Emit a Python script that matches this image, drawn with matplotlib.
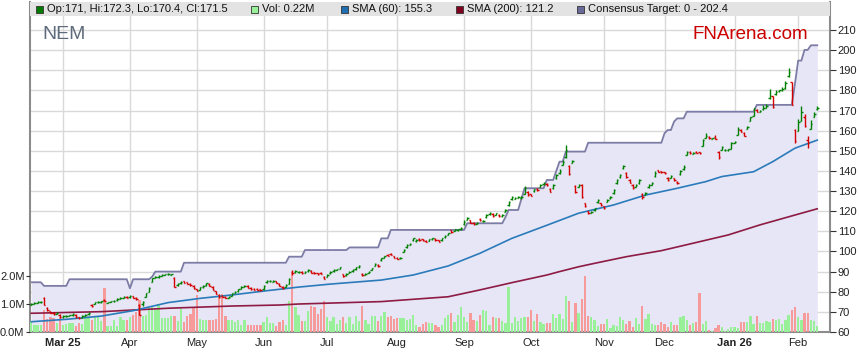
import numpy as np
import pandas as pd
import matplotlib
matplotlib.use("Agg")
import matplotlib.pyplot as plt
from matplotlib.collections import LineCollection
from matplotlib.patches import Rectangle

plt.rcParams['font.family'] = ['Liberation Sans', 'DejaVu Sans']

# trading days (US calendar) shown on the chart
holidays = ['2025-02-17', '2025-04-18', '2025-05-26', '2025-06-19', '2025-07-04',
            '2025-09-01', '2025-11-27', '2025-12-25', '2026-01-01', '2026-01-19']
dates = pd.bdate_range('2025-02-14', '2026-02-10', freq='C', holidays=holidays)

opens = [
    73.5, 73.9, 74.5, 74.8, 76.9, 72.0, 70.2, 69.5, 68.9, 68.6,
    67.4, 67.7, 67.9, 68.3, 68.4, 67.3, 67.0, 68.0, 68.7, 73.5,
    74.0, 74.7, 74.9, 76.0, 74.5, 74.9, 75.2, 75.8, 76.5, 77.0,
    77.6, 77.2, 77.8, 76.9, 73.4, 74.0, 77.5, 80.0, 85.0, 87.0,
    87.3, 88.0, 88.4, 88.6, 88.5, 87.0, 83.2, 84.3, 85.1, 84.6,
    83.9, 82.8, 81.3, 80.9, 82.3, 83.2, 84.0, 82.5, 80.2, 78.5,
    78.0, 77.6, 77.1, 78.0, 79.4, 80.3, 81.6, 82.5, 82.8, 81.9,
    81.5, 81.4, 81.3, 81.2, 84.8, 85.2, 85.0, 85.2, 83.8, 82.5,
    82.4, 84.0, 90.0, 89.7, 89.7, 89.9, 89.4, 90.2, 90.4, 89.6,
    89.2, 89.5, 87.5, 87.4, 89.3, 90.3, 90.9, 91.5, 88.6, 88.2,
    89.3, 90.3, 91.3, 92.3, 89.0, 88.5, 89.4, 90.8, 93.0, 93.5,
    95.8, 97.0, 98.3, 98.8, 97.5, 97.0, 96.6, 99.8, 102.0, 103.4,
    105.5, 105.2, 106.2, 106.0, 105.4, 105.3, 106.0, 106.3, 105.5, 105.6,
    107.0, 108.2, 110.5, 110.3, 110.6, 111.2, 113.5, 115.8, 115.5, 114.2,
    113.8, 116.2, 114.9, 117.0, 118.5, 118.6, 118.3, 118.2, 117.5, 119.6,
    123.0, 126.0, 126.3, 126.7, 126.6, 128.5, 129.5, 128.3, 129.8, 131.0,
    132.0, 133.4, 133.6, 131.0, 131.5, 136.5, 139.0, 143.0, 147.0, 142.5,
    144.0, 132.5, 132.2, 133.0, 124.0, 120.0, 119.2, 120.5, 124.5, 124.0,
    122.5, 124.6, 126.5, 129.0, 134.0, 137.0, 141.5, 139.0, 135.5, 133.0,
    132.2, 134.0, 128.5, 128.0, 132.0, 133.0, 137.5, 140.3, 139.9, 139.4,
    136.5, 136.6, 136.3, 134.5, 138.5, 141.0, 148.0, 149.5, 148.5, 149.6,
    149.3, 152.5, 156.5, 157.0, 156.0, 157.0, 149.5, 150.5, 150.2, 150.3,
    151.0, 154.0, 158.0, 160.5, 159.0, 161.0, 165.0, 167.5, 170.5, 169.3,
    170.8, 171.5, 176.0, 177.0, 178.0, 179.5, 180.0, 181.0, 187.0, 184.0,
    160.5, 160.0, 165.0, 167.0, 155.5, 161.0, 167.0, 171.0,
]
highs = [
    74.3, 74.8, 75.4, 75.6, 77.2, 72.3, 70.5, 69.8, 69.7, 68.9,
    68.2, 68.3, 68.6, 69.2, 68.7, 67.6, 68.2, 68.8, 69.7, 73.8,
    75.1, 75.3, 75.5, 76.3, 75.1, 75.5, 75.9, 76.8, 77.3, 77.9,
    77.9, 78.2, 78.1, 77.2, 73.7, 75.3, 79.5, 82.3, 87.0, 88.0,
    88.4, 88.8, 89.0, 89.2, 89.0, 87.3, 84.3, 85.3, 85.4, 84.9,
    84.2, 83.1, 81.6, 82.5, 83.2, 84.5, 84.3, 82.8, 80.5, 78.8,
    78.3, 77.9, 77.8, 79.5, 80.3, 81.5, 82.8, 83.2, 83.1, 82.2,
    81.8, 81.7, 81.6, 83.3, 85.8, 85.8, 85.6, 85.5, 84.1, 82.8,
    83.6, 86.8, 90.6, 90.6, 90.3, 90.2, 90.3, 91.1, 90.7, 89.9,
    89.5, 89.8, 87.8, 88.6, 90.3, 91.1, 91.5, 92.4, 88.9, 89.3,
    90.3, 91.1, 92.4, 93.1, 89.3, 89.3, 90.3, 92.0, 94.1, 93.8,
    96.9, 97.8, 98.6, 99.1, 97.8, 97.3, 97.3, 101.0, 103.5, 104.2,
    106.8, 106.0, 106.5, 106.3, 105.7, 106.3, 106.8, 106.6, 105.8, 106.8,
    108.0, 109.3, 110.8, 111.3, 111.3, 112.0, 115.5, 117.0, 115.8, 114.5,
    114.6, 116.5, 115.6, 118.4, 119.6, 118.9, 119.3, 118.5, 118.4, 120.9,
    125.0, 127.5, 127.1, 127.5, 127.3, 132.5, 129.8, 128.6, 131.2, 131.3,
    133.3, 134.3, 133.9, 131.3, 133.3, 138.5, 141.0, 145.3, 153.0, 142.8,
    145.5, 132.8, 133.5, 133.3, 124.3, 120.3, 120.0, 121.7, 126.0, 124.3,
    122.8, 125.9, 127.5, 131.0, 136.0, 138.5, 143.0, 139.3, 135.8, 133.3,
    133.5, 136.0, 128.8, 129.3, 133.5, 134.6, 139.8, 140.6, 140.2, 139.7,
    136.8, 137.8, 136.6, 134.8, 140.5, 143.0, 150.0, 150.0, 149.5, 149.9,
    149.6, 156.0, 159.0, 157.3, 156.6, 157.8, 149.8, 152.5, 150.8, 151.0,
    154.3, 155.0, 162.0, 160.8, 159.3, 162.3, 167.0, 171.5, 170.8, 170.3,
    172.5, 173.0, 180.5, 177.3, 180.0, 180.3, 181.5, 184.5, 191.0, 184.3,
    160.8, 166.0, 172.0, 168.5, 157.5, 165.5, 169.5, 172.3,
]
lows = [
    73.2, 73.7, 74.3, 74.6, 73.2, 70.6, 69.3, 68.5, 68.7, 67.2,
    67.1, 67.5, 67.7, 68.1, 67.2, 66.5, 66.8, 67.8, 68.5, 72.5,
    73.8, 74.5, 74.6, 75.3, 74.2, 74.7, 75.0, 75.6, 76.3, 76.8,
    76.8, 77.0, 76.7, 75.9, 68.2, 73.0, 77.2, 79.8, 84.7, 86.6,
    87.0, 87.8, 88.1, 88.3, 88.2, 82.2, 83.0, 84.0, 84.2, 83.7,
    83.0, 81.4, 80.2, 80.7, 82.0, 83.0, 82.7, 80.7, 78.7, 77.1,
    77.2, 76.7, 76.9, 77.8, 79.2, 80.1, 81.4, 82.3, 81.7, 80.9,
    80.7, 80.7, 80.5, 81.0, 84.5, 85.0, 84.8, 84.2, 82.7, 81.4,
    82.2, 83.8, 88.5, 89.4, 89.4, 88.8, 89.2, 90.0, 89.2, 88.8,
    88.4, 88.7, 86.1, 87.2, 89.0, 90.0, 90.6, 91.2, 87.5, 88.0,
    89.1, 90.0, 91.0, 92.0, 88.0, 88.2, 89.2, 90.6, 92.7, 92.5,
    95.5, 96.7, 97.5, 98.1, 96.6, 96.2, 96.4, 99.5, 101.8, 103.1,
    105.2, 104.9, 105.4, 105.2, 104.6, 105.1, 105.8, 105.4, 104.6, 105.4,
    106.8, 108.0, 109.2, 110.0, 110.3, 110.9, 113.2, 115.5, 114.0, 113.3,
    113.5, 115.3, 114.7, 116.8, 118.3, 117.3, 118.0, 117.3, 117.3, 119.4,
    122.7, 125.7, 126.0, 126.5, 126.3, 128.3, 127.7, 127.4, 129.6, 130.0,
    131.8, 133.1, 132.7, 129.4, 131.2, 136.2, 138.7, 142.7, 146.5, 138.0,
    143.8, 129.2, 132.0, 126.7, 122.3, 118.7, 118.9, 120.3, 124.3, 122.8,
    121.1, 124.4, 126.2, 128.7, 133.7, 136.7, 141.2, 136.6, 133.9, 131.1,
    132.0, 133.7, 126.0, 127.8, 131.7, 132.8, 137.2, 139.3, 139.0, 138.5,
    135.2, 136.4, 135.2, 133.5, 138.2, 140.7, 147.7, 148.4, 148.2, 148.7,
    148.5, 152.2, 156.2, 156.0, 155.8, 155.7, 146.0, 150.2, 149.9, 150.0,
    150.8, 153.7, 157.7, 159.2, 157.1, 160.8, 164.7, 167.2, 169.1, 169.1,
    170.5, 171.2, 175.7, 171.4, 177.7, 179.2, 179.7, 180.7, 186.7, 172.5,
    154.0, 159.7, 164.7, 162.0, 151.5, 160.7, 166.7, 170.4,
]
closes = [
    73.9, 74.5, 75.1, 75.1, 73.4, 70.9, 69.6, 68.8, 69.4, 67.5,
    67.9, 68.0, 68.3, 68.9, 67.5, 66.8, 67.9, 68.5, 69.4, 72.9,
    74.8, 75.0, 75.2, 75.6, 74.8, 75.2, 75.6, 76.5, 77.0, 77.5,
    77.1, 77.9, 77.0, 76.2, 68.5, 75.0, 79.2, 81.8, 86.7, 87.5,
    87.8, 88.5, 88.7, 88.9, 88.7, 82.5, 84.0, 85.0, 84.5, 84.0,
    83.3, 81.7, 80.5, 82.2, 82.9, 84.2, 83.0, 81.0, 79.0, 77.4,
    77.5, 77.0, 77.5, 79.2, 80.0, 81.2, 82.5, 82.9, 82.0, 81.2,
    81.0, 81.0, 80.8, 83.0, 85.5, 85.5, 85.3, 84.5, 83.0, 81.7,
    83.3, 86.5, 89.5, 90.3, 90.0, 89.1, 90.0, 90.8, 89.5, 89.1,
    88.7, 89.0, 86.4, 88.3, 90.0, 90.8, 91.2, 92.1, 87.8, 89.0,
    90.0, 90.8, 92.1, 92.8, 88.3, 89.0, 90.0, 91.7, 93.8, 92.8,
    96.6, 97.5, 97.8, 98.4, 96.9, 96.5, 97.0, 100.7, 103.2, 103.9,
    106.5, 105.7, 105.7, 105.5, 104.9, 106.0, 106.5, 105.7, 104.9, 106.5,
    107.7, 109.0, 109.5, 111.0, 111.0, 111.7, 114.8, 116.5, 114.3, 113.6,
    114.3, 115.6, 115.3, 118.1, 119.3, 117.6, 119.0, 117.6, 118.1, 120.6,
    124.7, 127.2, 126.8, 127.2, 127.0, 131.5, 128.0, 127.7, 130.9, 130.3,
    133.0, 134.0, 133.0, 129.7, 133.0, 138.0, 140.1, 144.6, 150.4, 138.5,
    145.0, 129.5, 133.0, 127.0, 122.6, 119.0, 119.7, 121.4, 125.6, 123.1,
    121.4, 125.6, 127.2, 130.5, 135.5, 138.0, 142.5, 136.9, 134.2, 131.4,
    133.0, 135.5, 127.2, 128.9, 133.0, 134.2, 138.8, 139.6, 139.3, 138.8,
    135.5, 137.5, 135.5, 133.8, 140.0, 142.1, 149.3, 148.7, 149.1, 149.0,
    148.8, 155.4, 157.4, 156.3, 156.3, 156.0, 147.0, 151.7, 150.5, 150.7,
    154.0, 154.4, 160.8, 159.5, 157.4, 162.0, 166.6, 171.1, 169.4, 170.0,
    171.5, 172.0, 177.2, 171.7, 179.4, 180.0, 180.5, 183.5, 189.0, 172.8,
    155.0, 164.3, 169.3, 162.3, 153.9, 163.3, 168.3, 171.5,
]
# volume, millions
volume = [
    0.40, 0.25, 0.25, 0.25, 0.79, 0.45, 0.52, 0.49, 0.31, 0.52,
    0.25, 0.29, 0.31, 0.31, 0.21, 0.33, 0.29, 0.49, 0.52, 0.43,
    0.57, 0.55, 0.40, 1.56, 0.21, 0.21, 0.43, 0.21, 0.52, 0.43,
    0.43, 0.55, 0.61, 0.73, 1.14, 0.57, 0.61, 0.85, 0.90, 0.79,
    1.00, 0.49, 0.49, 0.49, 0.57, 0.57, 0.40, 0.81, 0.37, 0.57,
    0.64, 0.90, 1.32, 0.45, 0.43, 0.43, 0.43, 0.43, 0.45, 1.32,
    1.36, 0.57, 0.43, 0.43, 0.37, 0.43, 0.25, 0.43, 0.25, 0.25,
    0.25, 0.25, 0.25, 0.37, 0.55, 0.33, 0.31, 0.21, 0.37, 0.43,
    0.25, 1.12, 2.10, 0.90, 0.61, 0.40, 0.40, 0.75, 0.93, 0.88,
    0.64, 0.83, 1.11, 0.55, 0.40, 0.55, 0.29, 0.43, 0.52, 0.33,
    0.55, 0.29, 0.57, 0.40, 0.93, 0.43, 0.29, 0.57, 0.57, 0.40,
    0.57, 0.73, 0.52, 0.57, 0.45, 0.49, 0.49, 0.49, 0.43, 0.45,
    0.61, 0.25, 0.19, 0.29, 0.37, 0.31, 0.33, 0.25, 0.19, 0.25,
    0.49, 0.61, 0.67, 0.37, 0.61, 0.88, 0.55, 0.37, 0.67, 0.43,
    0.40, 0.61, 0.79, 0.75, 0.25, 0.55, 0.49, 0.49, 0.40, 0.33,
    1.60, 0.33, 0.55, 0.40, 0.49, 0.55, 0.52, 0.79, 0.40, 0.64,
    0.37, 0.29, 0.33, 0.31, 0.64, 0.49, 0.64, 0.45, 1.29, 1.12,
    0.37, 1.02, 0.69, 1.18, 2.00, 0.57, 0.55, 0.43, 0.21, 0.29,
    0.29, 0.46, 0.15, 0.25, 0.21, 0.55, 0.43, 0.29, 0.40, 0.19,
    0.51, 0.29, 0.93, 0.46, 0.64, 0.29, 0.24, 0.25, 0.36, 0.29,
    0.19, 0.36, 0.25, 0.25, 0.52, 0.57, 0.43, 0.25, 0.33, 0.36,
    1.40, 0.29, 0.40, 0.07, 0.05, 0.14, 0.25, 0.19, 0.05, 0.11,
    0.19, 0.19, 0.15, 0.36, 0.36, 0.36, 0.57, 0.29, 0.57, 0.31,
    0.31, 0.39, 0.37, 0.46, 0.43, 0.46, 0.30, 0.43, 0.61, 0.79,
    0.88, 0.52, 0.43, 0.69, 0.69, 0.43, 0.40, 0.22,
]

# moving averages (day index, value)
sma60_day = [0, 11, 22, 32, 43, 53, 63, 74, 84, 94, 110, 120, 131, 141, 151,
             162, 172, 183, 193, 203, 212, 217, 227, 233, 240, 247]
sma60_val = [65.1, 66.3, 67.9, 70.6, 74.6, 76.7, 78.4, 80.5, 82.3, 83.8, 85.8,
             88.3, 92.8, 99.1, 106.5, 113.0, 119.0, 123.1, 128.0, 131.4, 134.7,
             137.2, 139.6, 144.6, 151.3, 155.3]
sma200_day = [0, 22, 43, 63, 78, 84, 110, 131, 141, 151, 162, 166, 172, 177,
              187, 198, 208, 219, 229, 240, 247]
sma200_val = [69.3, 70.1, 71.8, 72.9, 73.4, 73.9, 75.1, 77.5, 80.9, 84.5, 88.3,
              90.0, 92.4, 94.1, 97.4, 100.4, 104.1, 108.2, 113.2, 118.1, 121.2]

# consensus target: day index where it changes, and new value
target_day = [0, 4, 12, 31, 32, 38, 39, 48, 81, 86, 100, 110, 113, 137, 149, 150,
              154, 155, 162, 165, 166, 168, 175, 199, 200, 202, 203, 206, 228,
              240, 241, 243, 245]
target_val = [84.7, 82.9, 86.2, 81.7, 86.2, 87.5, 90.0, 94.4, 97.4, 100.7, 102.0,
              106.5, 110.7, 114.0, 117.0, 120.6, 126.0, 131.4, 135.5, 140.0, 144.6,
              149.6, 154.0, 158.7, 160.3, 164.5, 166.1, 169.4, 172.8, 183.5, 194.8,
              200.1, 202.4]

n = len(dates)
days = np.arange(n)
o = np.array(opens); h = np.array(highs); l = np.array(lows); c = np.array(closes)
up = c >= o
target = np.array(target_val)[np.searchsorted(target_day, days, side='right') - 1]

W, H = 859, 363
fig = plt.figure(figsize=(W / 100, H / 100), dpi=100)
ax = fig.add_axes([30 / W, 31 / H, 800 / W, 330 / H])
axv = ax.twinx()
axp = ax.twinx()

xlim = (-0.4, 251.0)
plim = (60, 223.9)
for a in (ax, axv, axp):
    a.set_xlim(*xlim)
ax.set_ylim(*plim)
axp.set_ylim(*plim)
axv.set_ylim(0, 11.79)

# month ticks
month_start = [i for i in range(1, n) if dates[i].month != dates[i - 1].month]
labels = []
for k, i in enumerate(month_start):
    d = dates[i]
    if k == 0 or d.month == 1:
        labels.append(d.strftime('%b %y'))
    else:
        labels.append(d.strftime('%b'))
ax.set_xticks(month_start)
ax.set_xticklabels(labels, fontsize=8, color='#222222')
for t in ax.get_xticklabels():
    if ' ' in t.get_text():
        t.set_fontweight('bold')
ax.tick_params(axis='x', length=0, pad=4)
ax.set_yticks(np.arange(60, 211, 10))
ax.tick_params(axis='y', left=False, labelleft=False, right=False, labelright=False)
ax.grid(True, color='#d9d9d9', lw=1.0)
ax.set_axisbelow(True)

# consensus target band
ax.fill_between(days, plim[0], target, color='#e6e6f6', lw=0, zorder=1)
ax.plot(days, target, color='#7c7ca6', lw=1.3, zorder=2)

for s in ax.spines.values():
    s.set_color('#8c8c8c')
    s.set_linewidth(1.5)
ax.spines['top'].set_visible(False)

# volume
vcol = np.where(up, '#98f098', '#f79a9a')
axv.bar(days, volume, width=0.72, color=vcol, lw=0)
axv.yaxis.tick_left()
axv.set_yticks([0, 1, 2])
axv.set_yticklabels(['0.0M', '1.0M', '2.0M'], fontsize=8, color='#222222')
axv.tick_params(axis='y', length=3, pad=1, color='#333333')
for s in axv.spines.values():
    s.set_visible(False)

# moving averages
axp.plot(sma200_day, sma200_val, color='#8e1b43', lw=1.2)
axp.plot(sma60_day, sma60_val, color='#2b7bbb', lw=1.2)

# OHLC bars
segs, cols = [], []
for i in days:
    col = '#008000' if up[i] else '#d40000'
    segs += [[(i, l[i]), (i, h[i])], [(i - 0.45, o[i]), (i, o[i])], [(i, c[i]), (i + 0.45, c[i])]]
    cols += [col] * 3
axp.add_collection(LineCollection(segs, colors=cols, linewidths=1.0))
axp.set_yticks(np.arange(60, 211, 10))
axp.tick_params(axis='y', length=4, pad=1.5, labelsize=8, color='#333333', labelcolor='#222222')
for s in axp.spines.values():
    s.set_visible(False)


def fx(px):
    return px / W


def fy(py):
    return 1 - py / H


# legend band across the top
fig.add_artist(Rectangle((fx(30), fy(16)), fx(800), 14 / H, transform=fig.transFigure,
                         facecolor='#e3e3e3', edgecolor='none'))
legend = [
    (36, '#007a00', 'Op:171, Hi:172.3, Lo:170.4, Cl:171.5'),
    (251, '#98f098', 'Vol: 0.22M'),
    (341, '#1f6fb0', 'SMA (60): 155.3'),
    (456, '#800020', 'SMA (200): 121.2'),
    (577, '#6a6a9a', 'Consensus Target: 0 - 202.4'),
]
for x0, col, txt in legend:
    fig.add_artist(Rectangle((fx(x0), fy(13)), 7 / W, 7 / H, transform=fig.transFigure,
                             facecolor=col, edgecolor='#333333', lw=0.6))
    fig.text(fx(x0 + 11), fy(9.5), txt, fontsize=8, va='center', color='#111111')

fig.text(fx(42), fy(39), 'NEM', fontsize=14, color='#5f6b7a', va='baseline')
fig.text(fx(693), fy(39), 'FNArena.com', fontsize=13.5, color='#cc0000', va='baseline')

fig.savefig('out.png', dpi=100)
